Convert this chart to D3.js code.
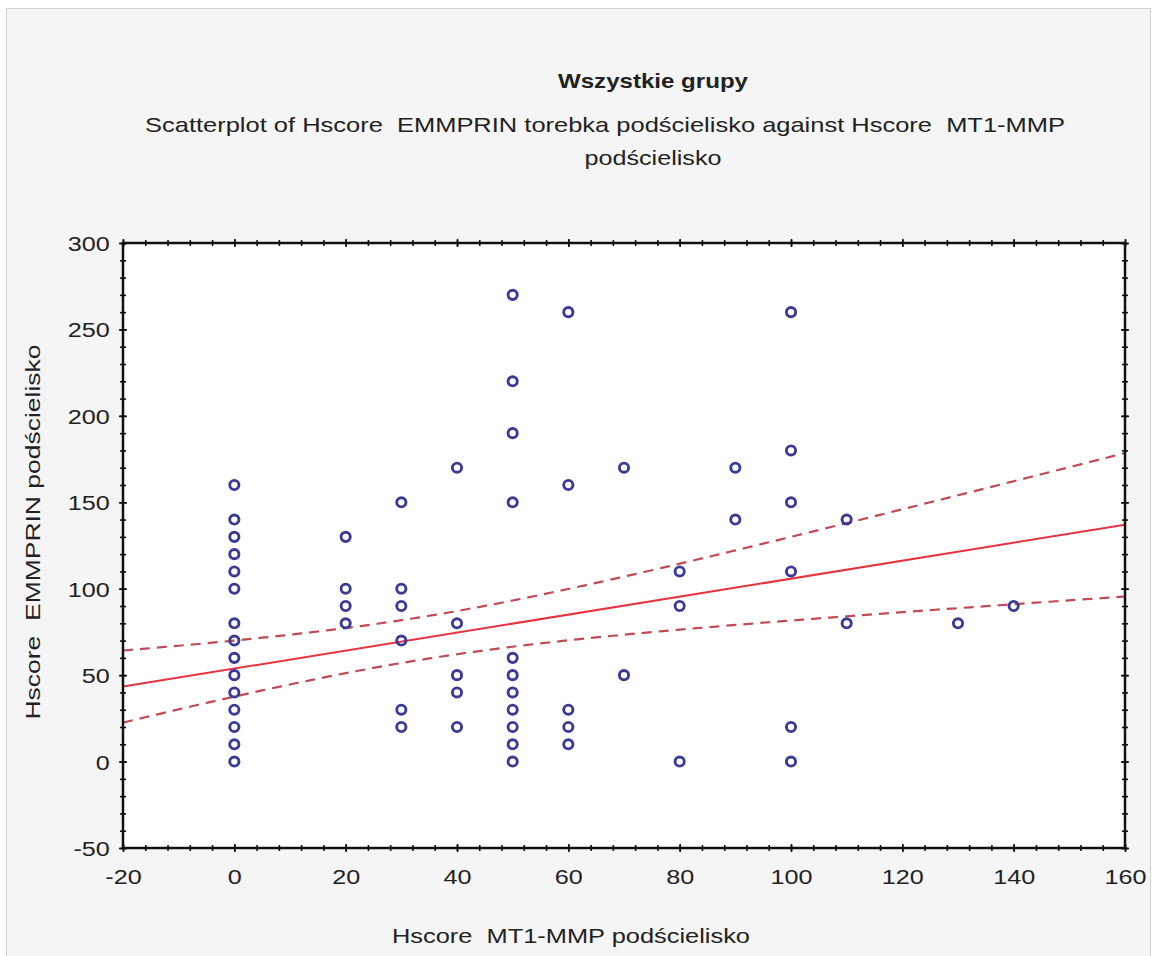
<!DOCTYPE html>
<html>
<head>
<meta charset="utf-8">
<script src="https://cdn.jsdelivr.net/npm/d3@7/dist/d3.min.js"></script>
<style>
  body { margin: 0; background: #fff; }
  text { font-family: "Liberation Sans", Arial, sans-serif; fill: #222; white-space: pre; }
</style>
</head>
<body>
<svg width="1159" height="956"></svg>
<script>
// values
const xTicks = [-20, 0, 20, 40, 60, 80, 100, 120, 140, 160];
const yTicks = [-50, 0, 50, 100, 150, 200, 250, 300];

// Hscore MT1-MMP podscielisko (x) / Hscore EMMPRIN podscielisko (y)
const mt1mmp = [
  0, 0, 0, 0, 0, 0, 0, 0, 0, 0, 0, 0, 0, 0, 0,
  20, 20, 20, 20,
  30, 30, 30, 30, 30, 30,
  40, 40, 40, 40, 40,
  50, 50, 50, 50, 50, 50, 50, 50, 50, 50, 50,
  60, 60, 60, 60, 60,
  70, 70,
  80, 80, 80,
  90, 90,
  100, 100, 100, 100, 100, 100,
  110, 110,
  130,
  140
];
const emmprin = [
  160, 140, 130, 120, 110, 100, 80, 70, 60, 50, 40, 30, 20, 10, 0,
  130, 100, 90, 80,
  150, 100, 90, 70, 30, 20,
  170, 80, 50, 40, 20,
  270, 220, 190, 150, 60, 50, 40, 30, 20, 10, 0,
  260, 160, 30, 20, 10,
  170, 50,
  110, 90, 0,
  170, 140,
  260, 180, 150, 110, 20, 0,
  140, 80,
  80,
  90
];

// regression line and 95% band
const fitIntercept = 53.8;
const fitSlope = 0.52;
const bandMeanX = 33.6;
const bandBase = 152.2;
const bandSpread = 0.0983;

let svg = d3.select("svg");

// outer panel
svg.append("rect").attr("x", 6.5).attr("y", 8.5).attr("width", 1144).attr("height", 950)
  .attr("fill", "#f5f5f5").attr("stroke", "#d2d2d2").attr("stroke-width", 1);

const pLeft = 123, pRight = 1125, pTop = 243, pBottom = 848;
const x = d3.scaleLinear().domain([-20, 160]).range([pLeft, pRight]);
const y = d3.scaleLinear().domain([-50, 300]).range([pBottom, pTop]);

svg.append("rect").attr("x", pLeft).attr("y", pTop).attr("width", pRight - pLeft).attr("height", pBottom - pTop)
  .attr("fill", "#fff");

// titles
svg.append("text").attr("x", 653).attr("y", 88).attr("text-anchor", "middle")
  .attr("font-size", 21).attr("font-weight", "bold")
  .attr("textLength", 190).attr("lengthAdjust", "spacingAndGlyphs")
  .text("Wszystkie grupy");
svg.append("text").attr("x", 605).attr("y", 132).attr("text-anchor", "middle")
  .attr("font-size", 21)
  .attr("textLength", 920).attr("lengthAdjust", "spacingAndGlyphs")
  .text("Scatterplot of Hscore  EMMPRIN torebka podścielisko against Hscore  MT1-MMP");
svg.append("text").attr("x", 653).attr("y", 165).attr("text-anchor", "middle")
  .attr("font-size", 21)
  .attr("textLength", 137).attr("lengthAdjust", "spacingAndGlyphs")
  .text("podścielisko");

// axis labels
svg.append("text").attr("x", 571).attr("y", 943).attr("text-anchor", "middle")
  .attr("font-size", 20)
  .attr("textLength", 358).attr("lengthAdjust", "spacingAndGlyphs")
  .text("Hscore  MT1-MMP podścielisko");
svg.append("text").attr("transform", "translate(40,532) rotate(-90)").attr("text-anchor", "middle")
  .attr("font-size", 20)
  .attr("textLength", 375).attr("lengthAdjust", "spacingAndGlyphs")
  .text("Hscore  EMMPRIN podścielisko");

// regression + band
svg.append("clipPath").attr("id", "clip").append("rect")
  .attr("x", pLeft).attr("y", pTop).attr("width", pRight - pLeft).attr("height", pBottom - pTop);
let plot = svg.append("g").attr("clip-path", "url(#clip)");

const xs = d3.range(-20, 161, 1);
const fit = v => fitIntercept + fitSlope * v;
const half = v => Math.sqrt(bandBase + bandSpread * (v - bandMeanX) * (v - bandMeanX));

const line = d3.line().x(d => x(d[0])).y(d => y(d[1]));

plot.append("path").attr("d", line(xs.map(v => [v, fit(v) + half(v)])))
  .attr("fill", "none").attr("stroke", "#c24a55").attr("stroke-width", 2.2).attr("stroke-dasharray", "10,7");
plot.append("path").attr("d", line(xs.map(v => [v, fit(v) - half(v)])))
  .attr("fill", "none").attr("stroke", "#c24a55").attr("stroke-width", 2.2).attr("stroke-dasharray", "10,7");
plot.append("path").attr("d", line([[-20, fit(-20)], [160, fit(160)]]))
  .attr("fill", "none").attr("stroke", "#e8333f").attr("stroke-width", 2);

// points
plot.selectAll("circle").data(mt1mmp).join("circle")
  .attr("cx", d => x(d))
  .attr("cy", (d, i) => y(emmprin[i]))
  .attr("r", 4.6)
  .attr("fill", "none")
  .attr("stroke", "#3a3a98")
  .attr("stroke-width", 2.9);

// axes: minor and major ticks crossing the frame on all four sides
function styleAxis(g) {
  g.select(".domain").remove();
  g.selectAll(".tick line").attr("stroke", "#111").attr("stroke-width", 1.6);
}
const xMinor = d3.range(-20, 161, 4);
const yMinor = d3.range(-50, 301, 10);

[[d3.axisBottom, pBottom, 1], [d3.axisTop, pTop, -1]].forEach(([ax, pos, s]) => {
  let g = svg.append("g").attr("transform", `translate(0,${pos})`)
    .call(ax(x).tickValues(xMinor).tickSize(3).tickFormat(""));
  styleAxis(g);
  g.selectAll(".tick line").attr("y1", -3 * s);
  let gm = svg.append("g").attr("transform", `translate(0,${pos})`)
    .call(ax(x).tickValues(xTicks).tickSize(4).tickFormat(""));
  styleAxis(gm);
  gm.selectAll(".tick line").attr("y1", -4 * s);
});
[[d3.axisLeft, pLeft, -1], [d3.axisRight, pRight, 1]].forEach(([ax, pos, s]) => {
  let g = svg.append("g").attr("transform", `translate(${pos},0)`)
    .call(ax(y).tickValues(yMinor).tickSize(3).tickFormat(""));
  styleAxis(g);
  g.selectAll(".tick line").attr("x1", -3 * s);
  let gm = svg.append("g").attr("transform", `translate(${pos},0)`)
    .call(ax(y).tickValues(yTicks).tickSize(4).tickFormat(""));
  styleAxis(gm);
  gm.selectAll(".tick line").attr("x1", -4 * s);
});

// frame
svg.append("rect").attr("x", pLeft).attr("y", pTop).attr("width", pRight - pLeft).attr("height", pBottom - pTop)
  .attr("fill", "none").attr("stroke", "#111").attr("stroke-width", 2.5);

// tick labels (plain hyphen for negatives, as in the original)
const fmt = d => String(d);
let xl = svg.append("g").attr("transform", `translate(0,${pBottom})`)
  .call(d3.axisBottom(x).tickValues(xTicks).tickSize(0).tickFormat(fmt));
xl.select(".domain").remove();
xl.selectAll("text").attr("font-size", 21).attr("font-family", null).attr("fill", "#222")
  .attr("x", 0).attr("y", 36).attr("dy", "0")
  .attr("transform", "scale(1.2,1)");

let yl = svg.append("g").attr("transform", `translate(${pLeft},0)`)
  .call(d3.axisLeft(y).tickValues(yTicks).tickSize(0).tickFormat(fmt));
yl.select(".domain").remove();
yl.selectAll("text").attr("font-size", 21).attr("font-family", null).attr("fill", "#222")
  .attr("x", -11).attr("dy", "0.36em").attr("transform", "scale(1.2,1)");
</script>
</body>
</html>
